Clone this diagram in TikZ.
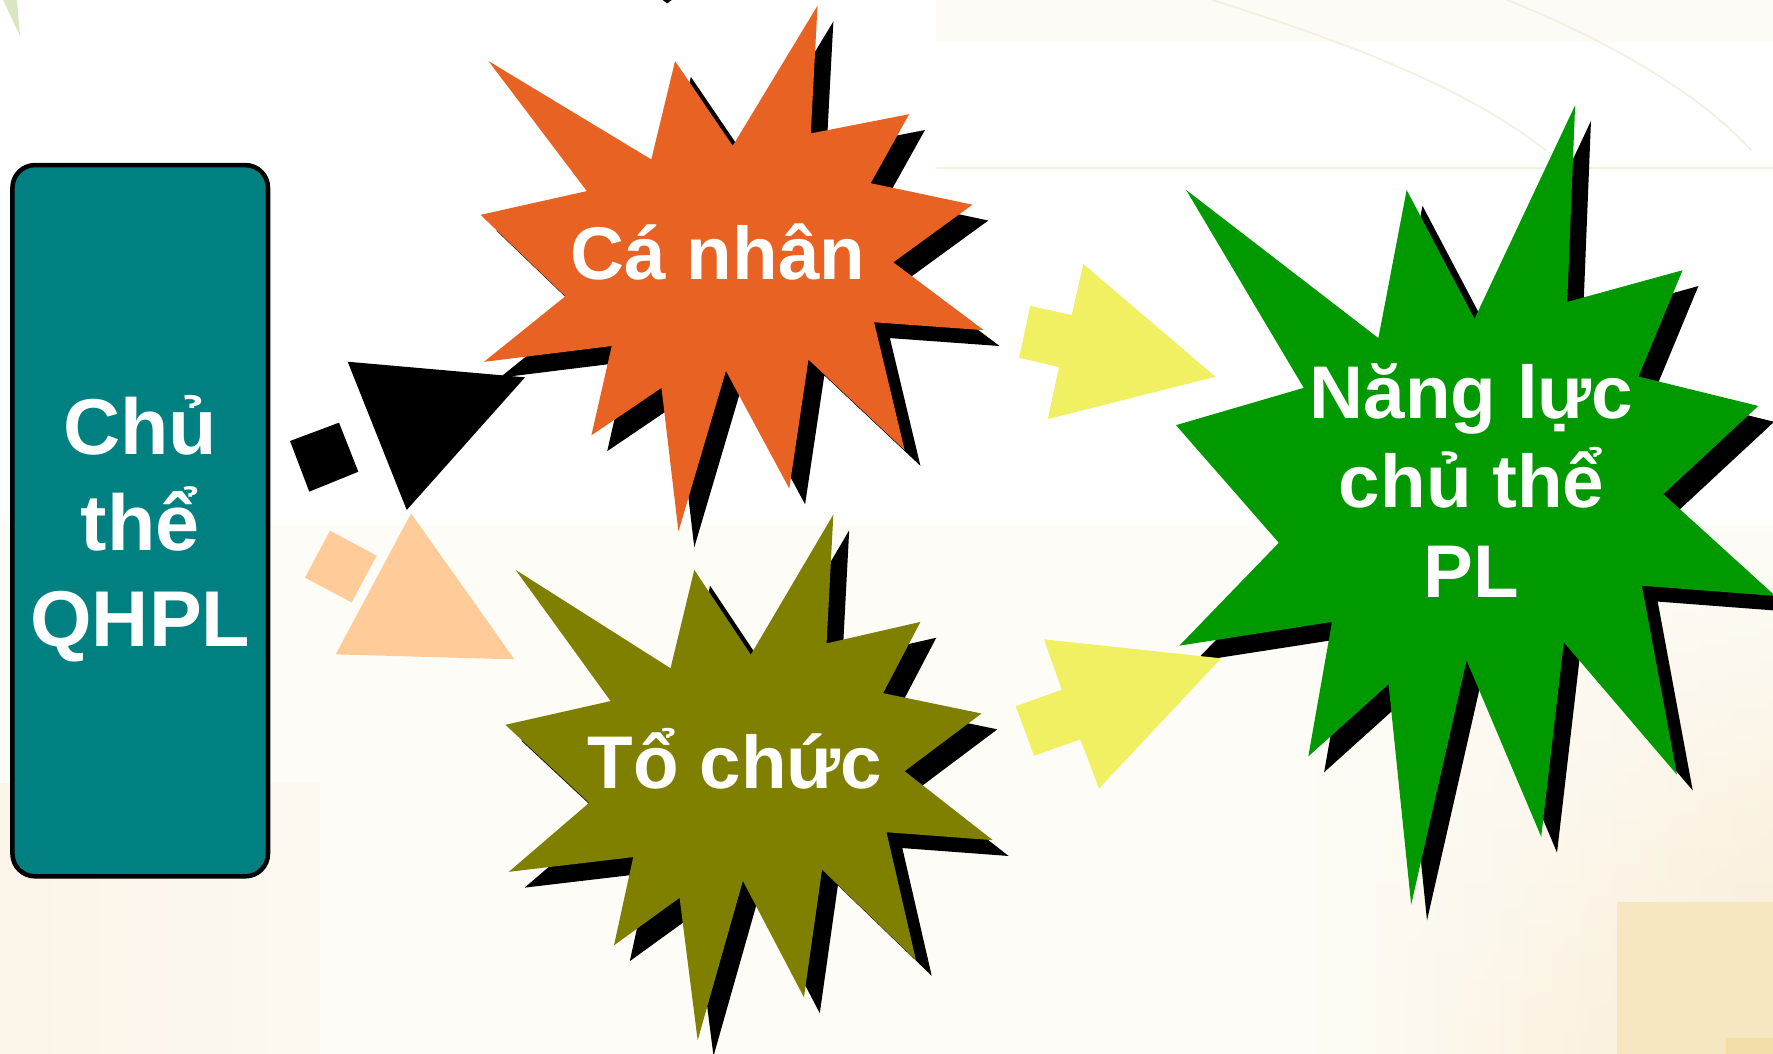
\documentclass[tikz,border=0pt]{standalone}
\usepackage{fontspec}
\setmainfont{Liberation Sans}
\usetikzlibrary{fadings}
\definecolor{boxteal}{RGB}{0,128,128}
\definecolor{burstorange}{RGB}{232,99,35}
\definecolor{burstolive}{RGB}{128,128,0}
\definecolor{burstgreen}{RGB}{0,153,0}
\definecolor{arrowyellow}{RGB}{240,240,98}
\definecolor{peach}{RGB}{255,204,153}
\definecolor{cream}{RGB}{254,252,247}
\definecolor{creamblock}{RGB}{251,244,232}
\definecolor{creamdeep}{RGB}{248,236,210}
\definecolor{beige}{RGB}{246,231,192}
\definecolor{beigedeep}{RGB}{243,222,170}
\definecolor{leafgreen}{RGB}{217,230,194}
\definecolor{faintline}{RGB}{242,240,224}
\definecolor{topband}{RGB}{252,251,245}

\begin{document}
\begin{tikzpicture}[x=0.5pt,y=-0.5pt,
  lbl/.style={text=white,font=\bfseries\fontsize{33}{40}\selectfont,
              align=center,inner sep=0pt,anchor=base},
  burstshadow/.style={fill=black,shift={(14,14)}},
  orangeburst/.style={insert path={(723,5) -- (717,118) -- (804,101) -- (770,162)
      -- (860,181) -- (790,232) -- (870,292) -- (773,285) -- (800,398) -- (715,318)
      -- (698,432) -- (642,328) -- (600,470) -- (585,343) -- (523,385) -- (541,306)
      -- (428,320) -- (500,262) -- (425,190) -- (519,169) -- (432,54) -- (576,141)
      -- (597,54) -- (648,129) -- cycle}},
  oliveburst/.style={insert path={(737,455) -- (731,569) -- (814,550) -- (781,613)
      -- (868,631) -- (800,682) -- (878,743) -- (784,736) -- (810,849) -- (727,769)
      -- (711,882) -- (657,779) -- (617,920) -- (601,794) -- (543,836) -- (560,758)
      -- (450,771) -- (521,710) -- (447,641) -- (540,620) -- (456,504) -- (593,591)
      -- (614,504) -- (664,579) -- cycle}},
  greenburst/.style={insert path={(1393,93) -- (1386,267) -- (1488,239) -- (1449,333)
      -- (1555,359) -- (1471,437) -- (1570,527) -- (1452,518) -- (1483,685)
      -- (1383,568) -- (1363,740) -- (1297,584) -- (1248,800) -- (1228,605)
      -- (1157,669) -- (1178,550) -- (1043,571) -- (1131,480) -- (1040,376)
      -- (1153,343) -- (1049,168) -- (1219,299) -- (1244,168) -- (1304,282) -- cycle}}
]
\useasboundingbox (0,0) rectangle (1568,932);
\clip (0,0) rectangle (1568,932);

% background
\fill[white] (0,0) rectangle (1568,932);
\fill[topband] (828,0) rectangle (1568,37);
\draw[faintline,line width=0.8pt] (828,148.8) -- (1568,148.8);
\draw[faintline,line width=0.8pt] (1072,0) .. controls (1200,40) and (1300,80) .. (1367,133);
\draw[faintline,line width=0.8pt] (1333,0) .. controls (1420,35) and (1500,80) .. (1549,133);
\fill[cream] (0,464) rectangle (1568,932);
\shade[left color=cream,right color=creamdeep,path fading=north] (1150,470) rectangle (1568,932);
\fill[beige] (1430,798) rectangle (1568,932);
\fill[beigedeep] (1526,918) rectangle (1568,932);
\shade[left color=creamblock,right color=cream!60!creamblock] (0,693) rectangle (283,932);
\fill[leafgreen] (2.7,0) -- (15,0) -- (17.7,31.8) -- cycle;
\fill[black] (586,0) -- (594,0) -- (590,3) -- cycle;

% subject box
\node[draw=black,line width=2pt,fill=boxteal,rounded corners=10pt,
      minimum width=113pt,minimum height=314.5pt,inner sep=0pt] (qhpl) at (124,460.5) {};
\node[lbl,font=\bfseries\fontsize{35}{42.5}\selectfont] (qhpltext) at (124,572) {Chủ\\thể\\QHPL};

% broken arrows beside the box
\fill[black] (256.5,390) -- (299.8,373.8) -- (316.9,417.2) -- (273.5,434.8) -- cycle;
\fill[black] (307.5,319.9) -- (464.3,333.7) -- (359.7,451) -- cycle;
\fill[peach] (291.9,469.3) -- (333.1,491.4) -- (311,532.7) -- (269.7,510.9) -- cycle;
\fill[peach] (363.5,454) -- (454.9,583.1) -- (296.9,578.7) -- cycle;

% bursts with drop shadows
\fill[burstshadow,orangeburst];
\fill[burstorange,orangeburst];
\fill[burstshadow,oliveburst];
\fill[burstolive,oliveburst];
\fill[burstshadow,greenburst];
\fill[burstgreen,greenburst];

% yellow arrows
\fill[arrowyellow] (911.2,270.6) -- (947.8,278.6) -- (958.1,233.5) -- (1074.9,333.2)
      -- (926.6,370.6) -- (936.6,324.6) -- (901.2,316.3) -- cycle;
\fill[arrowyellow] (923.3,565.4) -- (1079.9,582.2) -- (972,697.2) -- (955.4,653.8)
      -- (914.5,668.4) -- (898.3,624.6) -- (939,610) -- cycle;

% labels
\node[lbl] (canhan) at (635,247) {Cá nhân};
\node[lbl] (tochuc) at (650,697) {Tổ chức};
\node[lbl,font=\bfseries\fontsize{33}{39.5}\selectfont] (nangluc) at (1301.5,528) {Năng lực\\chủ thể\\PL};
\end{tikzpicture}
\end{document}
